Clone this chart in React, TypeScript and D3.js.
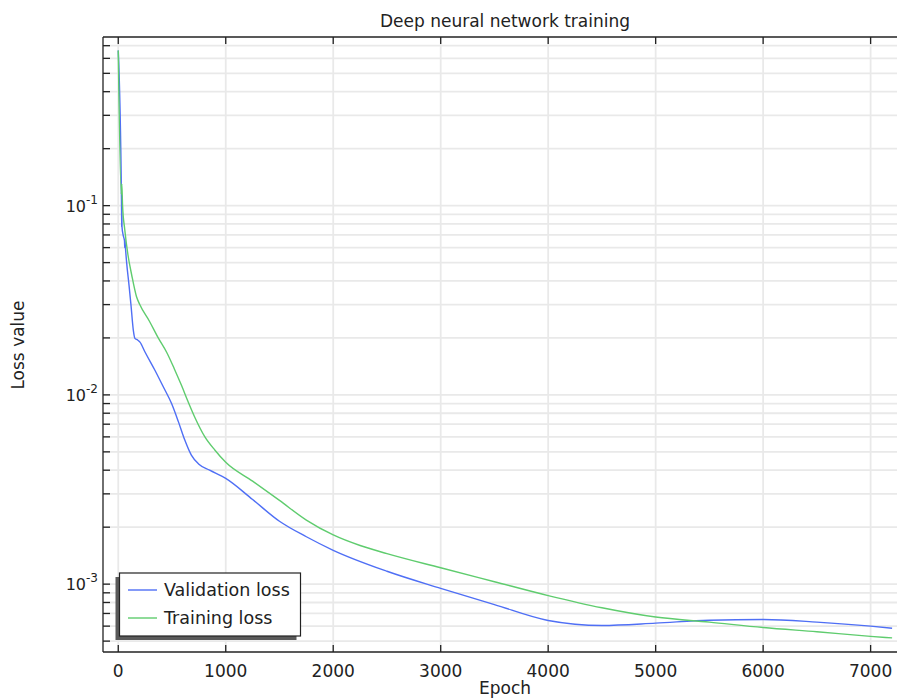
import React, { useEffect, useRef } from "react";
import * as d3 from "d3";

// epochs and loss values
const valEpochs = [0, 30, 32, 33, 35, 45, 58, 60, 62, 65, 78, 100, 118, 140, 155, 180, 202, 250, 341, 420, 496, 560, 620, 680, 750, 850, 1000, 1250, 1500, 1750, 2000, 2500, 3000, 3500, 4000, 4500, 5000, 5500, 6000, 6500, 7000, 7200];
const valLoss = [0.66, 0.105, 0.077, 0.097, 0.077, 0.07, 0.065, 0.06, 0.066, 0.062, 0.05, 0.038, 0.03, 0.022, 0.0199, 0.0195, 0.019, 0.0168, 0.0135, 0.011, 0.009, 0.0072, 0.00575, 0.0048, 0.0043, 0.004, 0.00362, 0.0028, 0.00215, 0.00178, 0.00151, 0.00117, 0.00095, 0.00078, 0.000643, 0.000605, 0.000622, 0.000645, 0.00065, 0.00063, 0.0006, 0.000585];

const trainEpochs = [0, 28, 33, 40, 60, 90, 125, 170, 200, 290, 372, 450, 520, 589, 650, 713, 806, 900, 1000, 1250, 1500, 1750, 2000, 2250, 2500, 3000, 3500, 4000, 4500, 5000, 5500, 6000, 6500, 7000, 7200];
const trainLoss = [0.66, 0.115, 0.13, 0.1, 0.075, 0.055, 0.043, 0.033, 0.03, 0.0245, 0.02, 0.0168, 0.0138, 0.0112, 0.0092, 0.0076, 0.006, 0.0051, 0.0044, 0.0035, 0.00277, 0.00218, 0.00182, 0.0016, 0.00145, 0.00122, 0.00103, 0.00087, 0.00075, 0.00067, 0.00063, 0.00059, 0.00056, 0.00053, 0.00052];

const xTicks = [0, 1000, 2000, 3000, 4000, 5000, 6000, 7000];
const yMajor = [1e-3, 1e-2, 1e-1];
const yExp = ["-3", "-2", "-1"];

const seriesNames = ["Validation loss", "Training loss"];
const seriesColors = ["#4f6ff5", "#5fcc6e"];

export default function App() {
  const ref = useRef<SVGSVGElement>(null);

  useEffect(() => {
    const svg = d3.select(ref.current);
    svg.selectAll("*").remove();

    const W = 897, H = 699;
    const left = 103, top = 37, right = 905, bottom = 652;
    const font = "DejaVu Sans, sans-serif";

    const x = d3.scaleLinear().domain([-142, 7320]).range([left, right]);
    const y = d3.scaleLog().domain([4.38e-4, 0.778]).range([bottom, top]);

    svg.attr("width", W).attr("height", H);

    svg.append("defs").append("clipPath").attr("id", "plotclip")
      .append("rect").attr("x", left).attr("y", top)
      .attr("width", right - left).attr("height", bottom - top);

    // minor + major log ticks inside the domain
    const yTicks: number[] = [];
    for (let e = -4; e <= 0; e++) {
      for (let m = 1; m <= 9; m++) {
        const v = m * Math.pow(10, e);
        if (v >= 4.38e-4 && v <= 0.778) yTicks.push(v);
      }
    }

    const grid = svg.append("g");
    grid.selectAll(".hg").data(yTicks).enter().append("line")
      .attr("x1", left).attr("x2", right)
      .attr("y1", (d) => y(d)).attr("y2", (d) => y(d))
      .attr("stroke", "#e9e9e9").attr("stroke-width", 1.8);
    grid.selectAll(".vg").data(xTicks).enter().append("line")
      .attr("x1", (d) => x(d)).attr("x2", (d) => x(d))
      .attr("y1", top).attr("y2", bottom)
      .attr("stroke", "#e9e9e9").attr("stroke-width", 1.8);

    const line = d3.line<[number, number]>()
      .x((d) => x(d[0]))
      .y((d) => y(d[1]))
      .curve(d3.curveMonotoneX);

    const series = [
      valEpochs.map((e, i) => [e, valLoss[i]] as [number, number]),
      trainEpochs.map((e, i) => [e, trainLoss[i]] as [number, number]),
    ];

    const lines = svg.append("g").attr("clip-path", "url(#plotclip)");
    series.forEach((s, i) => {
      lines.append("path")
        .attr("d", line(s))
        .attr("fill", "none")
        .attr("stroke", seriesColors[i])
        .attr("stroke-width", 1.4);
    });

    // frame
    const ax = svg.append("g").attr("stroke", "#222").attr("stroke-width", 1.3);
    ax.append("line").attr("x1", left).attr("x2", left).attr("y1", top).attr("y2", bottom);
    ax.append("line").attr("x1", left).attr("x2", right).attr("y1", top).attr("y2", top);
    ax.append("line").attr("x1", left).attr("x2", right).attr("y1", bottom).attr("y2", bottom);

    // ticks
    const tl = 7;
    xTicks.forEach((t) => {
      ax.append("line").attr("x1", x(t)).attr("x2", x(t)).attr("y1", bottom).attr("y2", bottom - tl);
      ax.append("line").attr("x1", x(t)).attr("x2", x(t)).attr("y1", top).attr("y2", top + tl);
    });
    yTicks.forEach((t) => {
      ax.append("line").attr("x1", left).attr("x2", left + tl).attr("y1", y(t)).attr("y2", y(t));
    });

    // x tick labels
    svg.selectAll(".xl").data(xTicks).enter().append("text")
      .attr("x", (d) => x(d)).attr("y", 677)
      .attr("text-anchor", "middle")
      .attr("font-family", font).attr("font-size", 17).attr("fill", "#222")
      .text((d) => String(d));

    // y tick labels 10^n
    yMajor.forEach((v, i) => {
      const t = svg.append("text")
        .attr("x", 98).attr("y", y(v) + 6)
        .attr("text-anchor", "end")
        .attr("font-family", font).attr("fill", "#222");
      t.append("tspan").attr("font-size", 16).text("10");
      t.append("tspan").attr("font-size", 12).attr("dy", -8).text(yExp[i]);
    });

    // titles
    svg.append("text").attr("x", 505).attr("y", 27).attr("text-anchor", "middle")
      .attr("font-family", font).attr("font-size", 17).attr("fill", "#222")
      .text("Deep neural network training");
    svg.append("text").attr("x", 505).attr("y", 694).attr("text-anchor", "middle")
      .attr("font-family", font).attr("font-size", 17).attr("fill", "#222")
      .text("Epoch");
    svg.append("text")
      .attr("transform", "translate(24,345) rotate(-90)")
      .attr("text-anchor", "middle")
      .attr("font-family", font).attr("font-size", 17).attr("fill", "#222")
      .text("Loss value");

    // legend
    const lg = svg.append("g");
    const lx = 119.5, ly = 573, lw = 181, lh = 63;
    lg.append("rect").attr("x", lx - 4).attr("y", ly + 4).attr("width", lw).attr("height", lh)
      .attr("fill", "#5a5a5a");
    lg.append("rect").attr("x", lx).attr("y", ly).attr("width", lw).attr("height", lh)
      .attr("fill", "#fff").attr("stroke", "#222").attr("stroke-width", 1.2);
    seriesNames.forEach((name, i) => {
      const yy = 590 + i * 28;
      lg.append("line").attr("x1", 128).attr("x2", 157).attr("y1", yy).attr("y2", yy)
        .attr("stroke", seriesColors[i]).attr("stroke-width", 1.4);
      lg.append("text").attr("x", 164).attr("y", yy + 6)
        .attr("font-family", font).attr("font-size", 17.5).attr("fill", "#222")
        .text(name);
    });
  }, []);

  return (
    <svg ref={ref} style={{ position: "absolute", left: 0, top: 0, background: "#fff" }}></svg>
  );
}
